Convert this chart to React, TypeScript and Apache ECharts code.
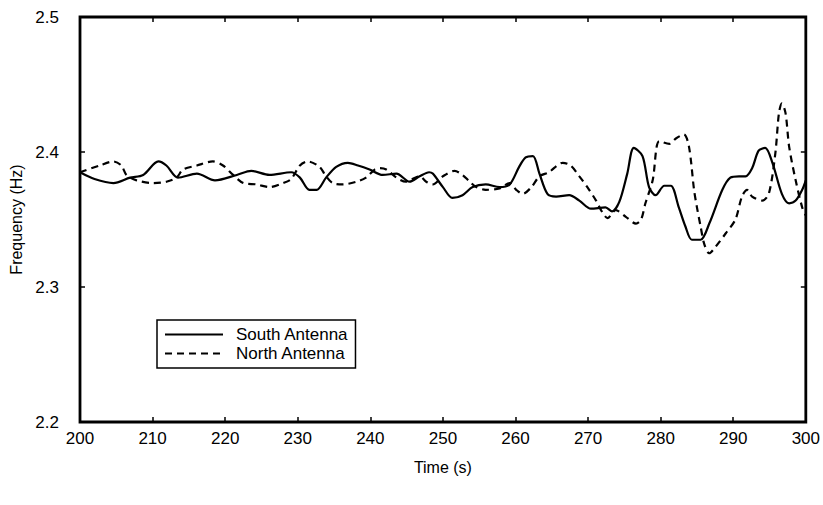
import React, { useEffect, useRef } from "react";
import * as echarts from "echarts";

const southTime = [200.0, 202.0, 204.6, 206.9, 208.7, 210.8, 211.9, 213.5, 216.1, 218.6, 221.6, 223.6, 226.1, 229.1, 230.3, 231.6, 232.6, 233.9, 235.3, 236.9, 238.3, 239.9, 241.7, 243.6, 245.4, 246.8, 248.1, 248.6, 250.0, 251.3, 252.7, 254.1, 255.9, 257.8, 259.2, 260.5, 261.4, 262.4, 263.3, 264.4, 265.6, 267.4, 268.8, 270.4, 272.4, 273.3, 274.3, 275.4, 276.3, 277.5, 278.4, 279.3, 280.5, 281.4, 282.5, 283.4, 284.3, 285.5, 286.7, 288.5, 289.6, 290.8, 291.7, 292.6, 293.5, 294.4, 295.4, 296.7, 297.7, 298.6, 299.5, 300.0];
const southFreq = [2.385, 2.380, 2.377, 2.381, 2.383, 2.393, 2.390, 2.381, 2.384, 2.379, 2.383, 2.386, 2.383, 2.385, 2.381, 2.372, 2.372, 2.381, 2.389, 2.392, 2.390, 2.387, 2.383, 2.384, 2.378, 2.382, 2.385, 2.384, 2.374, 2.366, 2.368, 2.374, 2.376, 2.374, 2.376, 2.389, 2.396, 2.397, 2.384, 2.369, 2.367, 2.368, 2.364, 2.358, 2.359, 2.356, 2.363, 2.384, 2.403, 2.397, 2.374, 2.368, 2.375, 2.375, 2.359, 2.345, 2.335, 2.335, 2.347, 2.372, 2.381, 2.382, 2.382, 2.388, 2.401, 2.403, 2.392, 2.369, 2.362, 2.364, 2.372, 2.379];

const northTime = [200.0, 202.7, 204.6, 205.7, 206.4, 207.8, 210.1, 211.9, 213.3, 214.2, 216.1, 218.3, 219.7, 221.1, 222.5, 224.3, 226.1, 228.0, 229.1, 230.3, 231.4, 233.0, 233.9, 234.8, 236.2, 238.1, 239.4, 240.6, 241.3, 242.2, 243.6, 244.9, 245.8, 246.8, 247.7, 248.6, 250.0, 251.6, 252.7, 253.7, 254.6, 255.9, 257.8, 259.2, 260.1, 261.0, 262.2, 263.3, 264.6, 266.5, 267.6, 268.8, 269.9, 271.1, 272.0, 272.7, 273.8, 275.2, 276.6, 277.3, 277.9, 278.9, 279.8, 281.2, 282.1, 283.2, 283.9, 284.6, 285.0, 285.5, 286.0, 286.7, 287.6, 289.0, 290.3, 291.2, 291.9, 292.6, 294.0, 294.9, 295.8, 296.3, 296.7, 297.2, 297.7, 298.6, 299.5, 300.0];
const northFreq = [2.385, 2.390, 2.393, 2.390, 2.383, 2.379, 2.377, 2.378, 2.381, 2.387, 2.390, 2.393, 2.390, 2.383, 2.377, 2.376, 2.374, 2.377, 2.380, 2.390, 2.393, 2.389, 2.382, 2.377, 2.376, 2.378, 2.381, 2.387, 2.388, 2.387, 2.381, 2.378, 2.380, 2.382, 2.378, 2.376, 2.382, 2.386, 2.383, 2.378, 2.374, 2.372, 2.373, 2.377, 2.372, 2.369, 2.374, 2.382, 2.385, 2.392, 2.390, 2.382, 2.374, 2.364, 2.355, 2.351, 2.357, 2.352, 2.347, 2.350, 2.362, 2.379, 2.408, 2.406, 2.410, 2.413, 2.404, 2.372, 2.359, 2.345, 2.332, 2.325, 2.330, 2.340, 2.350, 2.367, 2.372, 2.367, 2.364, 2.369, 2.399, 2.429, 2.436, 2.429, 2.404, 2.379, 2.359, 2.353];

const xTicks = [200, 210, 220, 230, 240, 250, 260, 270, 280, 290, 300];
const yTicks = [2.2, 2.3, 2.4, 2.5];
const seriesNames = ["South Antenna", "North Antenna"];

const FONT = "'Liberation Sans', Arial, Helvetica, sans-serif";

export default function App() {
  const ref = useRef<HTMLDivElement>(null);
  useEffect(() => {
    if (!ref.current) return;
    const chart = echarts.init(ref.current, undefined, { renderer: "svg" });
    const south = southTime.map((t, i) => [t, southFreq[i]]);
    const north = northTime.map((t, i) => [t, northFreq[i]]);
    const tickCommon = { show: true, inside: true, length: 5, lineStyle: { color: "#000", width: 1.5 } };
    chart.setOption({
      animation: false,
      backgroundColor: "#fff",
      textStyle: { fontFamily: FONT },
      grid: { left: 80, right: 16, top: 17, bottom: 83, show: true, borderColor: "#000", borderWidth: 2.8, backgroundColor: "transparent" },
      legend: {
        show: true,
        orient: "vertical",
        left: 157,
        top: 320,
        data: seriesNames,
        itemWidth: 58,
        itemHeight: 14,
        itemGap: 2,
        padding: [6, 7, 6, 7],
        borderColor: "#000",
        borderWidth: 1.5,
        borderRadius: 0,
        backgroundColor: "#fff",
        itemStyle: { opacity: 0, borderWidth: 0 },
        textStyle: { fontFamily: FONT, fontSize: 17, lineHeight: 14, color: "#000", padding: [0, 0, 0, 8] },
      },
      xAxis: [
        {
          type: "value",
          min: 200,
          max: 300,
          interval: 10,
          name: "Time (s)",
          nameLocation: "middle",
          nameGap: 37,
          nameTextStyle: { fontFamily: FONT, fontSize: 16, color: "#000" },
          axisLine: { show: false },
          axisTick: tickCommon,
          splitLine: { show: false },
          axisLabel: { fontFamily: FONT, fontSize: 17, color: "#000", margin: 8, formatter: (v: number) => (xTicks.includes(v) ? String(v) : "") },
        },
        {
          type: "value",
          position: "top",
          min: 200,
          max: 300,
          interval: 10,
          axisLine: { show: false },
          axisTick: tickCommon,
          splitLine: { show: false },
          axisLabel: { show: false },
        },
      ],
      yAxis: [
        {
          type: "value",
          min: 2.2,
          max: 2.5,
          interval: 0.1,
          name: "Frequency (Hz)",
          nameLocation: "middle",
          nameGap: 56,
          nameTextStyle: { fontFamily: FONT, fontSize: 16, color: "#000" },
          axisLine: { show: false },
          axisTick: tickCommon,
          splitLine: { show: false },
          axisLabel: {
            fontFamily: FONT,
            fontSize: 17,
            color: "#000",
            margin: 21,
            formatter: (v: number) => {
              const r = Math.round(v * 10) / 10;
              return yTicks.includes(r) ? r.toFixed(1) : "";
            },
          },
        },
        {
          type: "value",
          position: "right",
          min: 2.2,
          max: 2.5,
          interval: 0.1,
          axisLine: { show: false },
          axisTick: tickCommon,
          splitLine: { show: false },
          axisLabel: { show: false },
        },
      ],
      series: [
        {
          name: seriesNames[0],
          type: "line",
          data: south,
          showSymbol: false,
          symbol: "none",
          smooth: 0.3,
          lineStyle: { color: "#000", width: 2.2, type: "solid" },
          itemStyle: { color: "#000" },
        },
        {
          name: seriesNames[1],
          type: "line",
          data: north,
          showSymbol: false,
          symbol: "none",
          smooth: 0.3,
          lineStyle: { color: "#000", width: 2.2, type: [7, 5] },
          itemStyle: { color: "#000" },
        },
      ],
    });
    return () => chart.dispose();
  }, []);
  return <div ref={ref} style={{ width: 823, height: 505, position: "absolute", left: 0, top: 0 }} />;
}
